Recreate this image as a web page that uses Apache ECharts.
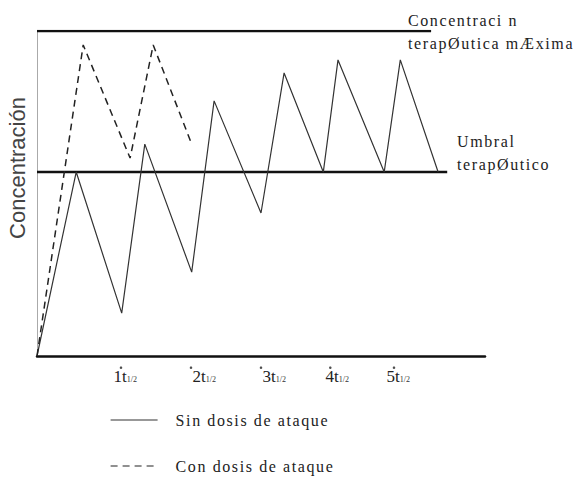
<!DOCTYPE html>
<html>
<head>
<meta charset="utf-8">
<script src="https://cdn.jsdelivr.net/npm/echarts@6/dist/echarts.min.js"></script>
<style>
html,body{margin:0;padding:0;background:#fff;}
#chart{width:575px;height:479px;}
#chart text[style*="16px"][style*="Serif"]{letter-spacing:1.6px;}
</style>
</head>
<body>
<div id="chart"></div>
<script>
// Time in units of t1/2, concentration in % of maximum therapeutic concentration
const sinDosisX = [0, 0.56, 1.21, 1.54, 2.21, 2.53, 3.2, 3.53, 4.09, 4.3, 4.96, 5.19, 5.73];
const sinDosisY = [0, 56.6, 13.2, 65.2, 25.8, 78.5, 44, 87.1, 56.6, 91.1, 56.6, 91.1, 56.6];
const conDosisX = [0, 0.66, 1.33, 1.66, 2.21];
const conDosisY = [0, 95.7, 60.9, 95.7, 65.2];
const maxLevel = 100, maxLineEnd = 5.63;
const umbralLevel = 56.6, umbralLineEnd = 5.86;
const tickPositions = [1.26, 2.39, 3.39, 4.29, 5.16];
const tickLabels = ['1t', '2t', '3t', '4t', '5t'];
const tickSub = '1/2';
const tickDotX = [1.2, 2.2, 3.2, 4.19, 5.1];
const tickDotY = -3.6;

const serif = '"Liberation Serif", "Times New Roman", serif';
const zip = (xs, ys) => xs.map((x, i) => [x, ys[i]]);

const chart = echarts.init(document.getElementById('chart'), null, {renderer: 'svg'});
chart.setOption({
  animation: false,
  backgroundColor: '#fff',
  grid: {left: 37, right: 90, top: 31, bottom: 123, containLabel: false},
  xAxis: {
    type: 'value', min: 0, max: 6.4,
    axisLine: {show: true, lineStyle: {color: '#111', width: 2.5}},
    axisTick: {show: false},
    splitLine: {show: false},
    axisLabel: {
      customValues: tickPositions,
      margin: 9,
      formatter: function (v) {
        const i = tickPositions.findIndex(p => Math.abs(p - v) < 1e-6);
        return i < 0 ? '' : '{n|' + tickLabels[i] + '}{s|' + tickSub + '}';
      },
      rich: {
        n: {fontFamily: serif, fontSize: 17, color: '#222', lineHeight: 20, verticalAlign: 'bottom'},
        s: {fontFamily: serif, fontSize: 8, color: '#333', lineHeight: 20, verticalAlign: 'bottom', padding: [0, 0, 2, 0]}
      }
    }
  },
  yAxis: {
    type: 'value', min: 0, max: 100,
    axisLine: {show: true, lineStyle: {color: '#aaa', width: 1}},
    axisTick: {show: false},
    axisLabel: {show: false},
    splitLine: {show: false}
  },
  legend: {
    data: ['Sin dosis de ataque', 'Con dosis de ataque'],
    orient: 'vertical',
    left: 110, top: 410, height: 66,
    padding: 0,
    itemWidth: 47, itemHeight: 14, itemGap: 26,
    itemStyle: {opacity: 0},
    lineStyle: {width: 1.2},
    textStyle: {fontFamily: serif, fontSize: 16, color: '#222', lineHeight: 20, padding: [0, 0, 0, 13]}
  },
  graphic: [
    {type: 'text', x: 17, y: 168, rotation: Math.PI / 2,
     style: {text: 'Concentración', font: '22px "Liberation Sans", Arial, sans-serif', fill: '#444', align: 'center', verticalAlign: 'middle'}},
    {type: 'text', x: 408, y: 20,
     style: {text: 'Concentraci n', font: '16px ' + serif, fill: '#222', align: 'left', verticalAlign: 'middle'}},
    {type: 'text', x: 408, y: 43,
     style: {text: 'terapØutica mÆxima', font: '16px ' + serif, fill: '#222', align: 'left', verticalAlign: 'middle'}},
    {type: 'text', x: 457, y: 141,
     style: {text: 'Umbral', font: '16px ' + serif, fill: '#222', align: 'left', verticalAlign: 'middle'}},
    {type: 'text', x: 457, y: 164,
     style: {text: 'terapØutico', font: '16px ' + serif, fill: '#222', align: 'left', verticalAlign: 'middle'}}
  ],
  series: [
    {name: 'Concentración máxima', type: 'line', data: [[0, maxLevel], [maxLineEnd, maxLevel]],
     symbol: 'none', lineStyle: {color: '#111', width: 2.5}, silent: true},
    {name: 'Umbral', type: 'line', data: [[0, umbralLevel], [umbralLineEnd, umbralLevel]],
     symbol: 'none', lineStyle: {color: '#111', width: 2.5}, silent: true},
    {name: 'Sin dosis de ataque', type: 'line', data: zip(sinDosisX, sinDosisY),
     symbol: 'none', itemStyle: {color: '#333'}, lineStyle: {color: '#333', width: 1.2}},
    {name: 'Con dosis de ataque', type: 'line', data: zip(conDosisX, conDosisY),
     symbol: 'none', itemStyle: {color: '#222'}, lineStyle: {color: '#222', width: 1.5, type: [7, 5]}},
    {name: 'ticks', type: 'scatter', data: tickDotX.map(x => [x, tickDotY]),
     symbolSize: 2.5, itemStyle: {color: '#222'}, clip: false, silent: true}
  ]
});
</script>
</body>
</html>
